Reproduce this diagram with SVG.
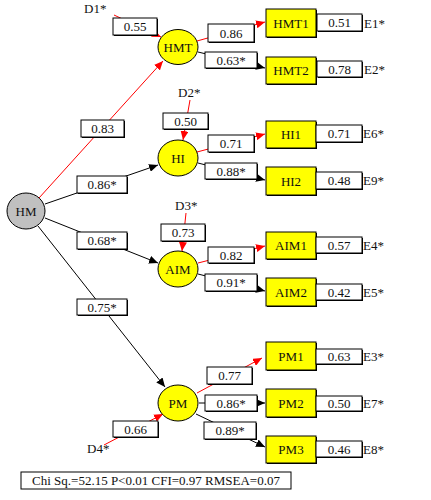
<svg xmlns="http://www.w3.org/2000/svg" width="431" height="500" viewBox="0 0 431 500">
<style>
text{font-family:"Liberation Serif","Times New Roman",serif;font-size:13px;fill:#111}
.c{text-anchor:middle}
.lb{fill:#fff;stroke:#000;stroke-width:1}
.sh{fill:#000}
.ind{fill:#ffff00;stroke:#000;stroke-width:1}
.lat{fill:#ffff00;stroke:#000;stroke-width:1}
.r{stroke:#ff0000;stroke-width:1;fill:none;marker-end:url(#ar)}
.k{stroke:#000;stroke-width:1;fill:none;marker-end:url(#ak)}
</style>
<defs>
<marker id="ar" markerUnits="userSpaceOnUse" markerWidth="10" markerHeight="8" refX="9" refY="4" orient="auto"><path d="M0,0 L9,4 L0,8 Z" fill="#ff0000"/></marker>
<marker id="ak" markerUnits="userSpaceOnUse" markerWidth="10" markerHeight="8" refX="9" refY="4" orient="auto"><path d="M0,0 L9,4 L0,8 Z" fill="#000"/></marker>
</defs>
<rect width="431" height="500" fill="#fff"/>
<g id="connectors">
<line class="r" x1="39" y1="198" x2="163" y2="61"/>
<line class="k" x1="45" y1="204" x2="158" y2="165"/>
<line class="k" x1="45" y1="218" x2="158" y2="263"/>
<line class="k" x1="38" y1="226" x2="165" y2="387"/>
<line class="r" x1="197" y1="41" x2="265" y2="22"/>
<line class="k" x1="198" y1="52" x2="265" y2="68"/>
<line class="r" x1="197" y1="152" x2="265" y2="134"/>
<line class="k" x1="198" y1="163" x2="265" y2="180"/>
<line class="r" x1="198" y1="263" x2="265" y2="246"/>
<line class="k" x1="198" y1="274" x2="265" y2="291"/>
<line class="r" x1="197" y1="393" x2="262" y2="358"/>
<line class="k" x1="199" y1="403" x2="265" y2="403"/>
<line class="k" x1="196" y1="414" x2="265" y2="447"/>
<line class="r" x1="114" y1="15" x2="161" y2="37"/>
<line class="r" x1="190" y1="100" x2="183" y2="140"/>
<line class="r" x1="186" y1="213" x2="182" y2="251"/>
<line class="r" x1="104" y1="445" x2="163" y2="414"/>
</g>
<g id="labels">
<rect class="sh" x="114" y="19" width="44" height="17"/><rect class="lb" x="113" y="18" width="44" height="17"/><text class="c" x="135" y="31">0.55</text>
<rect class="sh" x="209" y="25" width="46" height="18"/><rect class="lb" x="208" y="24" width="46" height="18"/><text class="c" x="231" y="38">0.86</text>
<rect class="sh" x="206" y="53" width="52" height="16"/><rect class="lb" x="205" y="52" width="52" height="16"/><text class="c" x="231" y="65">0.63*</text>
<rect class="sh" x="82" y="121" width="43" height="17"/><rect class="lb" x="81" y="120" width="43" height="17"/><text class="c" x="102.5" y="133">0.83</text>
<rect class="sh" x="164" y="114" width="45" height="16"/><rect class="lb" x="163" y="113" width="45" height="16"/><text class="c" x="185.5" y="126">0.50</text>
<rect class="sh" x="209" y="136" width="46" height="17"/><rect class="lb" x="208" y="135" width="46" height="17"/><text class="c" x="231" y="148">0.71</text>
<rect class="sh" x="206" y="164" width="52" height="16"/><rect class="lb" x="205" y="163" width="52" height="16"/><text class="c" x="231" y="176">0.88*</text>
<rect class="sh" x="78" y="177" width="50" height="17"/><rect class="lb" x="77" y="176" width="50" height="17"/><text class="c" x="102" y="189">0.86*</text>
<rect class="sh" x="78" y="233" width="50" height="17"/><rect class="lb" x="77" y="232" width="50" height="17"/><text class="c" x="102" y="245">0.68*</text>
<rect class="sh" x="162" y="225" width="44" height="17"/><rect class="lb" x="161" y="224" width="44" height="17"/><text class="c" x="183" y="237">0.73</text>
<rect class="sh" x="209" y="248" width="46" height="16"/><rect class="lb" x="208" y="247" width="46" height="16"/><text class="c" x="231" y="260">0.82</text>
<rect class="sh" x="206" y="275" width="52" height="17"/><rect class="lb" x="205" y="274" width="52" height="17"/><text class="c" x="231" y="287">0.91*</text>
<rect class="sh" x="78" y="300" width="50" height="16"/><rect class="lb" x="77" y="299" width="50" height="16"/><text class="c" x="102" y="312">0.75*</text>
<rect class="sh" x="208" y="368" width="45" height="17"/><rect class="lb" x="207" y="367" width="45" height="17"/><text class="c" x="229.5" y="380">0.77</text>
<rect class="sh" x="206" y="396" width="52" height="16"/><rect class="lb" x="205" y="395" width="52" height="16"/><text class="c" x="231" y="408">0.86*</text>
<rect class="sh" x="205" y="423" width="52" height="17"/><rect class="lb" x="204" y="422" width="52" height="17"/><text class="c" x="230" y="435">0.89*</text>
<rect class="sh" x="114" y="422" width="45" height="16"/><rect class="lb" x="113" y="421" width="45" height="16"/><text class="c" x="135.5" y="434">0.66</text>
<text x="84" y="13">D1*</text>
<text x="178" y="97">D2*</text>
<text x="175" y="210">D3*</text>
<text x="87" y="453">D4*</text>
</g>
<g id="HM"><ellipse cx="26" cy="211" rx="19" ry="18" fill="#c0c0c0" stroke="#000"/><text class="c" x="26" y="216">HM</text></g>
<g id="HMT"><ellipse class="lat" cx="178" cy="47" rx="20" ry="17.5"/><text class="c" x="178" y="52">HMT</text></g>
<g id="HI"><ellipse class="lat" cx="178" cy="158" rx="20" ry="18"/><text class="c" x="178" y="163">HI</text></g>
<g id="AIM"><ellipse class="lat" cx="178" cy="269" rx="20" ry="18"/><text class="c" x="178" y="274">AIM</text></g>
<g id="PM"><ellipse class="lat" cx="178" cy="403" rx="20" ry="18"/><text class="c" x="178" y="408">PM</text></g>
<g id="HMT1"><rect class="sh" x="267" y="10" width="50" height="28"/><rect class="ind" x="266" y="9" width="50" height="28"/><text class="c" x="291" y="28">HMT1</text>
<rect class="sh" x="318" y="15" width="45" height="17"/><rect class="lb" x="317" y="14" width="45" height="17"/><text class="c" x="339.5" y="27">0.51</text><text x="364" y="28">E1*</text></g>
<g id="HMT2"><rect class="sh" x="267" y="58" width="50" height="27"/><rect class="ind" x="266" y="57" width="50" height="27"/><text class="c" x="291" y="75">HMT2</text>
<rect class="sh" x="318" y="62" width="45" height="16"/><rect class="lb" x="317" y="61" width="45" height="16"/><text class="c" x="339.5" y="74">0.78</text><text x="364" y="74">E2*</text></g>
<g id="HI1"><rect class="sh" x="267" y="122" width="50" height="27"/><rect class="ind" x="266" y="121" width="50" height="27"/><text class="c" x="291" y="139">HI1</text>
<rect class="sh" x="317" y="126" width="46" height="17"/><rect class="lb" x="316" y="125" width="46" height="17"/><text class="c" x="339" y="138">0.71</text><text x="363" y="138">E6*</text></g>
<g id="HI2"><rect class="sh" x="267" y="168" width="50" height="28"/><rect class="ind" x="266" y="167" width="50" height="28"/><text class="c" x="291" y="186">HI2</text>
<rect class="sh" x="317" y="173" width="46" height="17"/><rect class="lb" x="316" y="172" width="46" height="17"/><text class="c" x="339" y="185">0.48</text><text x="363" y="185">E9*</text></g>
<g id="AIM1"><rect class="sh" x="267" y="233" width="50" height="27"/><rect class="ind" x="266" y="232" width="50" height="27"/><text class="c" x="291" y="250">AIM1</text>
<rect class="sh" x="317" y="238" width="46" height="16"/><rect class="lb" x="316" y="237" width="46" height="16"/><text class="c" x="339" y="250">0.57</text><text x="363" y="250">E4*</text></g>
<g id="AIM2"><rect class="sh" x="267" y="279" width="50" height="28"/><rect class="ind" x="266" y="278" width="50" height="28"/><text class="c" x="291" y="297">AIM2</text>
<rect class="sh" x="317" y="285" width="46" height="16"/><rect class="lb" x="316" y="284" width="46" height="16"/><text class="c" x="339" y="297">0.42</text><text x="363" y="297">E5*</text></g>
<g id="PM1"><rect class="sh" x="267" y="343" width="50" height="28"/><rect class="ind" x="266" y="342" width="50" height="28"/><text class="c" x="291" y="361">PM1</text>
<rect class="sh" x="317" y="350" width="46" height="15"/><rect class="lb" x="316" y="349" width="46" height="15"/><text class="c" x="339" y="361">0.63</text><text x="363" y="361">E3*</text></g>
<g id="PM2"><rect class="sh" x="267" y="390" width="50" height="28"/><rect class="ind" x="266" y="389" width="50" height="28"/><text class="c" x="291" y="408">PM2</text>
<rect class="sh" x="317" y="397" width="46" height="15"/><rect class="lb" x="316" y="396" width="46" height="15"/><text class="c" x="339" y="408">0.50</text><text x="363" y="408">E7*</text></g>
<g id="PM3"><rect class="sh" x="267" y="437" width="50" height="27"/><rect class="ind" x="266" y="436" width="50" height="27"/><text class="c" x="291" y="454">PM3</text>
<rect class="sh" x="317" y="442" width="46" height="16"/><rect class="lb" x="316" y="441" width="46" height="16"/><text class="c" x="339" y="454">0.46</text><text x="363" y="454">E8*</text></g>
<g id="fit"><rect class="lb" x="21" y="472" width="270" height="17"/><text class="c" x="156" y="485">Chi Sq.=52.15 P&lt;0.01 CFI=0.97 RMSEA=0.07</text></g>
</svg>
